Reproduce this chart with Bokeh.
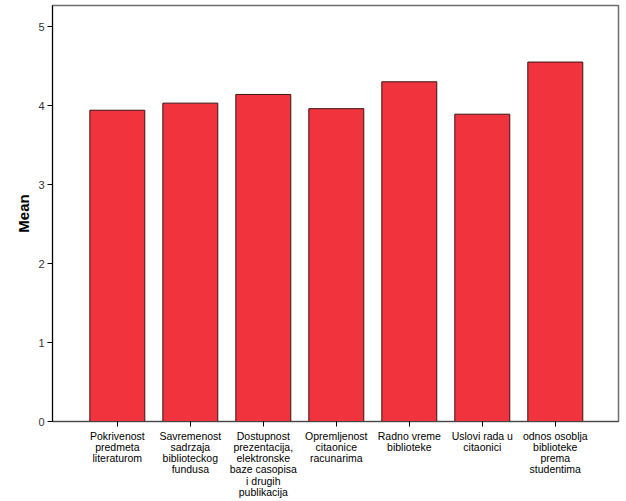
from bokeh.plotting import figure
from bokeh.models import Range1d, FixedTicker, ColumnDataSource
from bokeh.embed import file_html
from bokeh.resources import INLINE

categories = [
    "Pokrivenost\npredmeta\nliteraturom",
    "Savremenost\nsadrzaja\nbiblioteckog\nfundusa",
    "Dostupnost\nprezentacija,\nelektronske\nbaze casopisa\ni drugih\npublikacija",
    "Opremljenost\ncitaonice\nracunarima",
    "Radno vreme\nbiblioteke",
    "Uslovi rada u\ncitaonici",
    "odnos osoblja\nbiblioteke\nprema\nstudentima",
]
means = [3.94, 4.03, 4.14, 3.96, 4.30, 3.89, 4.55]
y_ticks = [0, 1, 2, 3, 4, 5]

positions = list(range(len(categories)))
src = ColumnDataSource(dict(x=positions, top=means))

p = figure(width=620, height=500, output_backend="svg", toolbar_location=None,
           x_range=Range1d(-0.888, len(categories) - 1 + 0.866),
           y_range=Range1d(0, 416 / 79),
           min_border_left=52, min_border_right=2, min_border_top=5, min_border_bottom=79)

p.vbar(x="x", top="top", width=0.753, source=src,
       fill_color="#F0333D", line_color="#3a1414", line_width=1)

p.xgrid.visible = False
p.ygrid.visible = False
p.outline_line_color = "#6e6e6e"
p.outline_line_width = 1.5

p.yaxis.ticker = FixedTicker(ticks=y_ticks)
p.yaxis.minor_tick_line_color = None
p.yaxis.major_tick_out = 5
p.yaxis.major_tick_in = 0
p.yaxis.axis_line_color = "black"
p.yaxis.major_tick_line_color = "black"
p.yaxis.major_label_text_font = "Liberation Sans"
p.yaxis.major_label_text_font_size = "11px"
p.yaxis.major_label_text_color = "#333333"
p.yaxis.major_label_standoff = 3
p.yaxis.axis_label = "Mean"
p.yaxis.axis_label_text_font = "Liberation Sans"
p.yaxis.axis_label_text_font_style = "bold"
p.yaxis.axis_label_text_font_size = "15px"
p.yaxis.axis_label_text_color = "black"
p.yaxis.axis_label_standoff = 3

p.xaxis.ticker = FixedTicker(ticks=positions)
p.xaxis.major_label_overrides = {i: c for i, c in zip(positions, categories)}
p.xaxis.minor_tick_line_color = None
p.xaxis.major_tick_out = 5
p.xaxis.major_tick_in = 0
p.xaxis.axis_line_color = "#444444"
p.xaxis.major_tick_line_color = "black"
p.xaxis.major_label_text_font = "Liberation Sans"
p.xaxis.major_label_text_font_size = "10.5px"
p.xaxis.major_label_text_color = "black"
p.xaxis.major_label_text_line_height = 0.94
p.xaxis.major_label_standoff = 3

open("out.html", "w").write(file_html(p, INLINE))
